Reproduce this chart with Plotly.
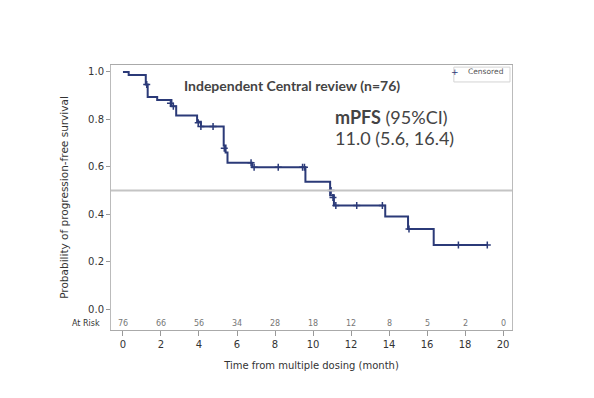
import plotly.graph_objects as go

# Kaplan-Meier step curve (time in months, survival probability)
step_times = [0, 0.3, 1.2, 1.3, 1.8, 2.55, 2.8, 3.9, 4.1, 5.3, 5.4, 5.5, 6.8, 9.6, 10.9, 11.1, 13.8, 15.0, 16.35, 19.2]
step_surv = [1.0, 0.987, 0.947, 0.895, 0.882, 0.855, 0.816, 0.79, 0.77, 0.69, 0.66, 0.617, 0.598, 0.537, 0.48, 0.437, 0.39, 0.338, 0.27, 0.27]

# Censored observations
cens_times = [1.25, 2.5, 2.65, 3.96, 4.1, 4.74, 5.33, 6.74, 6.9, 8.17, 9.45, 9.55, 10.95, 11.05, 11.2, 12.3, 13.65, 15.05, 17.65, 19.17]
cens_surv = [0.947, 0.868, 0.855, 0.786, 0.77, 0.77, 0.678, 0.617, 0.598, 0.598, 0.598, 0.598, 0.50, 0.47, 0.437, 0.437, 0.437, 0.338, 0.27, 0.27]

# Number at risk
risk_times = [0, 2, 4, 6, 8, 10, 12, 14, 16, 18, 20]
risk_counts = [76, 66, 56, 34, 28, 18, 12, 8, 5, 2, 0]

x_ticks = [0, 2, 4, 6, 8, 10, 12, 14, 16, 18, 20]
y_ticks = [0.0, 0.2, 0.4, 0.6, 0.8, 1.0]

NAVY = "#2b3a78"

fig = go.Figure()
fig.add_trace(go.Scatter(x=step_times, y=step_surv, mode="lines", line=dict(color=NAVY, width=2, shape="hv"),
                         showlegend=False, hoverinfo="skip"))
fig.add_trace(go.Scatter(x=cens_times, y=cens_surv, mode="markers", name="Censored", showlegend=False,
                         marker=dict(symbol="cross-thin", size=5, line=dict(color=NAVY, width=1.5))))

# median reference line
fig.add_shape(type="line", xref="paper", yref="y", x0=0, x1=1, y0=0.5, y1=0.5,
              line=dict(color="#c4c4c4", width=2))

# legend box (Censored)
fig.add_shape(type="rect", xref="paper", yref="paper", x0=0.855, x1=0.995, y0=0.936, y1=0.992,
              line=dict(color="#d4d4d4", width=1), fillcolor="white", layer="below")
fig.add_annotation(x=0.872, y=0.9745, xref="paper", yref="paper", text="+", yanchor="middle",
                   showarrow=False, font=dict(family="DejaVu Sans", size=9, color=NAVY))
fig.add_annotation(x=0.885, y=0.9745, xref="paper", yref="paper", text="Censored", xanchor="left", yanchor="middle",
                   showarrow=False, font=dict(family="DejaVu Sans", size=7.5, color="#555555"))

for t, n in zip(risk_times, risk_counts):
    fig.add_annotation(x=t, y=-0.063, xref="x", yref="y", text=str(n), showarrow=False,
                       font=dict(family="DejaVu Sans", size=8, color="#777777"))
fig.add_annotation(x=-0.022, y=-0.063, xref="paper", yref="y", text="At Risk", showarrow=False, xanchor="right",
                   font=dict(family="DejaVu Sans", size=8, color="#333333"))

fig.add_annotation(x=0.451, y=0.962, xref="paper", yref="paper", text="<b>Independent Central review (n=76)</b>",
                   showarrow=False, font=dict(family="Lato", size=14, color="#444444"))
fig.add_annotation(x=0.553, y=0.852, xref="paper", yref="paper", xanchor="left",
                   text="<b>mPFS</b> (95%CI)", showarrow=False, font=dict(family="Lato", size=18, color="#444444"))
fig.add_annotation(x=0.553, y=0.775, xref="paper", yref="paper", xanchor="left",
                   text="11.0 (5.6, 16.4)", showarrow=False, font=dict(family="Lato", size=18, color="#444444"))

fig.update_layout(
    width=594, height=398,
    margin=dict(l=103, r=90, t=57, b=76),
    paper_bgcolor="white", plot_bgcolor="white",
    showlegend=False,
    xaxis=dict(range=[-0.63, 20.47], tickvals=x_ticks, ticks="outside", ticklen=5, tickcolor="#999999",
               showgrid=False, zeroline=False, showline=True, linecolor="#aaaaaa", linewidth=1, mirror=True,
               automargin=False,
               tickfont=dict(family="DejaVu Sans", size=10, color="#333333"),
               title=dict(text="Time from multiple dosing (month)", standoff=12,
                          font=dict(family="DejaVu Sans", size=10, color="#333333"))),
    yaxis=dict(range=[-0.0886, 1.0295], tickvals=y_ticks, tickformat=".1f", ticks="outside", ticklen=4,
               tickcolor="#999999", showgrid=False, zeroline=False, showline=True, linecolor="#bbbbbb",
               linewidth=1, mirror=True, automargin=False,
               tickfont=dict(family="DejaVu Sans", size=10, color="#333333"),
               title=dict(text="Probability of progression-free survival", standoff=17,
                          font=dict(family="DejaVu Sans", size=10.5, color="#333333"))),
)

fig.write_html("out.html")
